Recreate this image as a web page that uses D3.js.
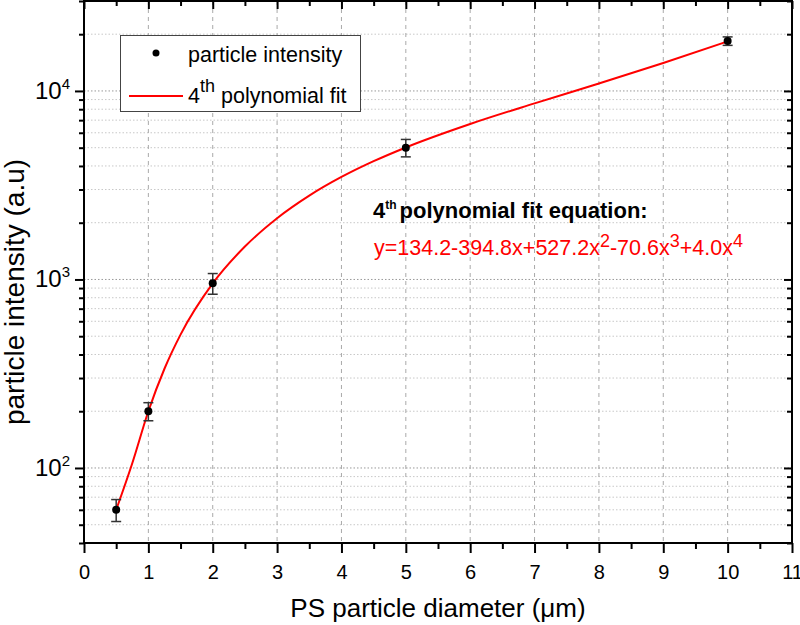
<!DOCTYPE html>
<html><head><meta charset="utf-8">
<script src="https://cdn.jsdelivr.net/npm/d3@7"></script>
<style>
body{margin:0;background:#fff;}
text{font-family:Arial,"Liberation Sans",sans-serif;}
</style></head>
<body><svg id="c" width="800" height="625"></svg>
<script>
// ---- data ----
const diameters = [0.5, 1, 2, 5, 10];
const intensities = [60, 200, 955, 5000, 18400];
const errors = [8, 22, 120, 530, 950];
// 4th polynomial fit curve
const fitX = [0.5, 0.75, 1, 1.25, 1.5, 2, 2.5, 3, 3.5, 4, 4.5, 5, 6, 7, 8, 9, 10];
const fitY = [60, 106, 200, 336, 510, 953, 1495, 2112, 2784, 3496, 4240, 5015, 6679, 8592, 10953, 14061, 18306];
const xTicks = [0,1,2,3,4,5,6,7,8,9,10,11];
const yMajorTicks = [100, 1000, 10000];
const yExpLabels = ["2", "3", "4"];
const legendLabels = ["particle intensity", "polynomial fit"];
const xTitle = "PS particle diameter (\u03bcm)";
const yTitle = "particle intensity (a.u)";

const svg = d3.select("#c");
const m = {l:84, r:8, t:1, b:82};
const W = 800, H = 625;
const x = d3.scaleLinear().domain([0, 11]).range([m.l, W - m.r]);
const y = d3.scaleLog().domain([40, 30000]).range([H - m.b, m.t]);

// minor ticks
const yMinor = [];
for (let d = 1; d <= 4; d++) for (let k = 2; k <= 9; k++) {
  const v = k * Math.pow(10, d);
  if (v >= 40 && v <= 30000) yMinor.push(v);
}
const xMinor = d3.range(0.5, 11, 1);

// grid
const g = svg.append("g");
g.selectAll(".hmin").data(yMinor).join("line")
  .attr("x1", m.l).attr("x2", W - m.r).attr("y1", d => y(d)).attr("y2", d => y(d))
  .attr("stroke", "#c8c8c8").attr("stroke-width", 1).attr("stroke-dasharray", "1.5,2");
g.selectAll(".hmaj").data(yMajorTicks).join("line")
  .attr("x1", m.l).attr("x2", W - m.r).attr("y1", d => y(d)).attr("y2", d => y(d))
  .attr("stroke", "#999").attr("stroke-width", 1).attr("stroke-dasharray", "1.5,2");
g.selectAll(".vg").data(xTicks.slice(1, -1)).join("line")
  .attr("x1", d => x(d)).attr("x2", d => x(d)).attr("y1", m.t).attr("y2", H - m.b)
  .attr("stroke", "#aaa").attr("stroke-width", 1).attr("stroke-dasharray", "4,4");

// axes (ticks only; frame drawn separately)
function style(sel){
  sel.select(".domain").remove();
  sel.selectAll(".tick line").attr("stroke", "#000").attr("stroke-width", 2);
}
const bx = svg.append("g").attr("transform", `translate(0,${H - m.b})`)
  .call(d3.axisBottom(x).tickValues(xTicks).tickSize(10).tickFormat(d3.format("d"))).call(style);
bx.selectAll(".tick text").attr("font-size", 20).attr("fill", "#000").attr("dy", null).attr("y", 36)
  .attr("font-family", "Arial, 'Liberation Sans', sans-serif");
svg.append("g").attr("transform", `translate(0,${H - m.b})`)
  .call(d3.axisBottom(x).tickValues(xMinor).tickSize(6).tickFormat("")).call(style);
svg.append("g").attr("transform", `translate(0,${m.t})`)
  .call(d3.axisBottom(x).tickValues(xTicks).tickSize(8).tickFormat("")).call(style);
svg.append("g").attr("transform", `translate(0,${m.t})`)
  .call(d3.axisBottom(x).tickValues(xMinor).tickSize(5).tickFormat("")).call(style);
svg.append("g").attr("transform", `translate(${m.l},0)`)
  .call(d3.axisLeft(y).tickValues(yMajorTicks).tickSize(9).tickFormat("")).call(style);
svg.append("g").attr("transform", `translate(${m.l},0)`)
  .call(d3.axisLeft(y).tickValues(yMinor).tickSize(5).tickFormat("")).call(style);
svg.append("g").attr("transform", `translate(${W - m.r},0)`)
  .call(d3.axisRight(y).tickValues(yMajorTicks).tickSize(-8).tickFormat("")).call(style);
svg.append("g").attr("transform", `translate(${W - m.r},0)`)
  .call(d3.axisRight(y).tickValues(yMinor).tickSize(-5).tickFormat("")).call(style);

// frame
svg.append("rect").attr("x", m.l).attr("y", m.t).attr("width", W - m.r - m.l).attr("height", H - m.b - m.t)
  .attr("fill", "none").attr("stroke", "#000").attr("stroke-width", 2);

// y labels with superscripts
const yl = svg.append("g");
yMajorTicks.forEach((v, i) => {
  const t = yl.append("text").attr("x", m.l - 14).attr("y", y(v) + 8).attr("text-anchor", "end")
    .attr("font-size", 24).attr("fill", "#000");
  t.append("tspan").text("10");
  t.append("tspan").attr("dy", -10).attr("font-size", 15).text(yExpLabels[i]);
});

// titles
svg.append("text").attr("x", (m.l + W - m.r) / 2).attr("y", 617).attr("text-anchor", "middle")
  .attr("font-size", 26).attr("fill", "#000").text(xTitle);
svg.append("text").attr("transform", `translate(24,292) rotate(-90)`)
  .attr("text-anchor", "middle").attr("font-size", 28).attr("fill", "#000").text(yTitle);

// fit line
const line = d3.line().x((d, i) => x(fitX[i])).y(d => y(d)).curve(d3.curveMonotoneX);
svg.append("path").attr("d", line(fitY)).attr("fill", "none").attr("stroke", "#ff0000").attr("stroke-width", 2);

// error bars + points
const pts = svg.append("g");
diameters.forEach((d, i) => {
  const cx = x(d), lo = y(intensities[i] - errors[i]), hi = y(intensities[i] + errors[i]);
  pts.append("line").attr("x1", cx).attr("x2", cx).attr("y1", lo).attr("y2", hi).attr("stroke", "#333").attr("stroke-width", 1.5);
  pts.append("line").attr("x1", cx - 5).attr("x2", cx + 5).attr("y1", lo).attr("y2", lo).attr("stroke", "#333").attr("stroke-width", 1.5);
  pts.append("line").attr("x1", cx - 5).attr("x2", cx + 5).attr("y1", hi).attr("y2", hi).attr("stroke", "#333").attr("stroke-width", 1.5);
});
pts.selectAll("circle").data(diameters).join("circle")
  .attr("cx", d => x(d)).attr("cy", (d, i) => y(intensities[i])).attr("r", 4).attr("fill", "#000");

// legend
const lg = svg.append("g");
lg.append("rect").attr("x", 120.5).attr("y", 35.5).attr("width", 240).attr("height", 76)
  .attr("fill", "#fff").attr("stroke", "#444").attr("stroke-width", 1);
lg.append("circle").attr("cx", 156).attr("cy", 53).attr("r", 3.5).attr("fill", "#000");
lg.append("text").attr("x", 188).attr("y", 62).attr("font-size", 21.5).attr("fill", "#000").text(legendLabels[0]);
lg.append("line").attr("x1", 129).attr("x2", 183).attr("y1", 96).attr("y2", 96).attr("stroke", "#ff0000").attr("stroke-width", 2);
const lt = lg.append("text").attr("x", 188).attr("y", 103).attr("font-size", 21.5).attr("fill", "#000");
lt.append("tspan").text("4");
lt.append("tspan").attr("dy", -11).attr("font-size", 18).text("th");
lt.append("tspan").attr("dy", 11).attr("dx", 6).text(legendLabels[1]);

// equation annotation
const e1 = svg.append("text").attr("x", 373).attr("y", 218).attr("font-size", 22).attr("font-weight", "bold").attr("fill", "#000");
e1.append("tspan").text("4");
e1.append("tspan").attr("dy", -9).attr("font-size", 12).text("th");
e1.append("tspan").attr("dy", 9).attr("dx", 3).text("polynomial fit equation:");
const eqParts = [["y=134.2-394.8x", null], ["+527.2x", "2"], ["-70.6x", "3"], ["+4.0x", "4"]];
const e2 = svg.append("text").attr("x", 374).attr("y", 255).attr("font-size", 21.5).attr("fill", "#ff0000");
let raised = false;
eqParts.forEach(p => {
  const ts = e2.append("tspan").text(p[0]);
  if (raised) { ts.attr("dy", 8); raised = false; }
  if (p[1]) {
    e2.append("tspan").attr("dy", -8).attr("font-size", 18).text(p[1]);
    raised = true;
  }
});
</script></body></html>
